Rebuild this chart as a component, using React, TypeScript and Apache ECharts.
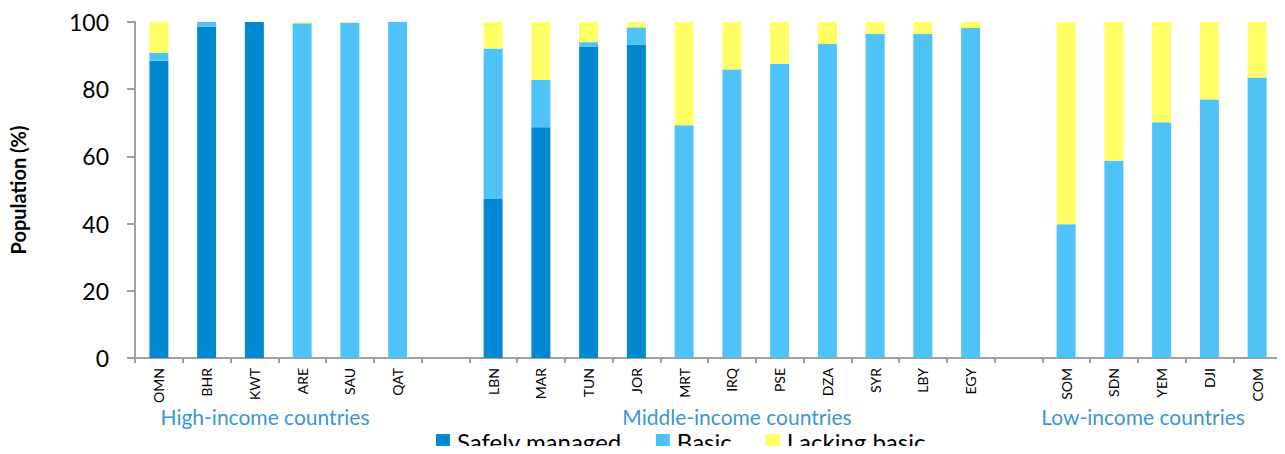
import React, { useEffect, useRef } from 'react';
import * as echarts from 'echarts';

const categories = ['OMN', 'BHR', 'KWT', 'ARE', 'SAU', 'QAT', '', 'LBN', 'MAR', 'TUN', 'JOR', 'MRT', 'IRQ', 'PSE', 'DZA', 'SYR', 'LBY', 'EGY', ' ', 'SOM', 'SDN', 'YEM', 'DJI', 'COM'];
const safelyManaged = [88.5, 98.6, 100, 0, 0, 0, null, 47.3, 68.7, 92.6, 93.2, 0, 0, 0, 0, 0, 0, 0, null, 0, 0, 0, 0, 0];
const basic = [2.3, 1.4, 0, 99.6, 99.8, 100, null, 44.8, 14.1, 1.4, 5.2, 69.3, 85.9, 87.6, 93.5, 96.5, 96.5, 98.2, null, 39.8, 58.7, 70.2, 76.9, 83.5];
const lackingBasic = [9.2, 0, 0, 0.4, 0.2, 0, null, 7.9, 17.2, 6.0, 1.6, 30.7, 14.1, 12.4, 6.5, 3.5, 3.5, 1.8, null, 60.2, 41.3, 29.8, 23.1, 16.5];
const seriesNames = ['Safely managed', 'Basic', 'Lacking basic'];
const seriesColors = ['#0288D1', '#4FC3F7', '#FFFF66'];
const groupLabels = ['High-income countries', 'Middle-income countries', 'Low-income countries'];
const groupLabelX = [265, 737, 1143];
const yMin = 0;
const yMax = 100;
const yInterval = 20;

const FONT = 'Lato, "Noto Sans", sans-serif';

export default function App() {
  const ref = useRef<HTMLDivElement>(null);
  useEffect(() => {
    if (!ref.current) return;
    const chart = echarts.init(ref.current, null, { renderer: 'svg' });
    const values = [safelyManaged, basic, lackingBasic];
    chart.setOption({
      animation: false,
      textStyle: { fontFamily: FONT },
      grid: { left: 126, right: 4, top: 22, bottom: 96, containLabel: false },
      legend: {
        data: seriesNames,
        left: 436,
        top: 429,
        padding: 0,
        itemWidth: 14,
        itemHeight: 14,
        itemGap: 34,
        icon: 'rect',
        textStyle: { fontSize: 24, color: '#000', fontFamily: FONT, padding: [0, 0, 0, 2], lineHeight: 24 },
      },
      xAxis: {
        type: 'category',
        data: categories,
        axisLine: { lineStyle: { color: '#a0a0a0', width: 2 } },
        axisTick: { show: true, length: 5, interval: 0, lineStyle: { color: '#a0a0a0', width: 2 } },
        axisLabel: { interval: 0, rotate: 90, fontSize: 14, color: '#000', margin: 10, fontFamily: FONT },
      },
      yAxis: {
        type: 'value',
        min: yMin,
        max: yMax,
        interval: yInterval,
        name: 'Population (%)',
        nameLocation: 'middle',
        nameGap: 107,
        nameTextStyle: { fontSize: 20, fontWeight: 'bold', color: '#000', fontFamily: FONT },
        axisLine: { show: true, lineStyle: { color: '#a0a0a0', width: 2 } },
        axisTick: { show: true, length: 8, lineStyle: { color: '#a0a0a0', width: 2 } },
        axisLabel: { fontSize: 23, color: '#000', margin: 26, fontFamily: FONT },
        splitLine: { show: false },
      },
      graphic: groupLabels.map((t, i) => ({
        type: 'text',
        x: groupLabelX[i],
        y: 416,
        style: {
          text: t,
          fontSize: 21,
          fill: '#3A96D6',
          fontFamily: FONT,
          align: 'center',
          verticalAlign: 'middle',
        },
      })),
      series: seriesNames.map((name, i) => ({
        name,
        type: 'bar',
        stack: 'total',
        data: values[i],
        barWidth: 19,
        itemStyle: { color: seriesColors[i] },
      })),
    });
    return () => chart.dispose();
  }, []);
  return <div ref={ref} style={{ width: 1285, height: 454, margin: -8 }} />;
}
